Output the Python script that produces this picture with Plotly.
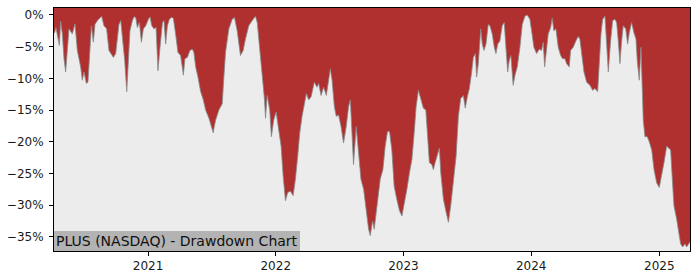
import pandas as pd
import plotly.graph_objects as go

# Time as decimal year, drawdown in percent
year_frac = [
    2020.271, 2020.281, 2020.297, 2020.308, 2020.318, 2020.331, 2020.344, 2020.357, 2020.383, 2020.409,
    2020.430, 2020.448, 2020.474, 2020.487, 2020.500, 2020.519, 2020.531, 2020.547, 2020.558, 2020.573,
    2020.586, 2020.605, 2020.625, 2020.638, 2020.656, 2020.677, 2020.695, 2020.714, 2020.730, 2020.748,
    2020.773, 2020.787, 2020.802, 2020.818, 2020.834, 2020.844, 2020.859, 2020.878, 2020.891, 2020.904,
    2020.917, 2020.933, 2020.948, 2020.964, 2020.982, 2021.003, 2021.016, 2021.029, 2021.047, 2021.063,
    2021.078, 2021.094, 2021.113, 2021.125, 2021.138, 2021.152, 2021.167, 2021.183, 2021.198, 2021.216,
    2021.234, 2021.255, 2021.277, 2021.289, 2021.308, 2021.328, 2021.347, 2021.359, 2021.373, 2021.391,
    2021.412, 2021.433, 2021.451, 2021.477, 2021.503, 2021.511, 2021.516, 2021.529, 2021.555, 2021.581,
    2021.594, 2021.607, 2021.633, 2021.659, 2021.677, 2021.698, 2021.724, 2021.745, 2021.763, 2021.789,
    2021.816, 2021.841, 2021.855, 2021.875, 2021.894, 2021.912, 2021.920, 2021.933, 2021.953, 2021.966,
    2021.984, 2022.003, 2022.023, 2022.042, 2022.058, 2022.076, 2022.094, 2022.115, 2022.136, 2022.154,
    2022.172, 2022.188, 2022.206, 2022.224, 2022.240, 2022.258, 2022.277, 2022.302, 2022.323, 2022.336,
    2022.355, 2022.375, 2022.396, 2022.414, 2022.427, 2022.441, 2022.459, 2022.474, 2022.492, 2022.511,
    2022.531, 2022.552, 2022.570, 2022.584, 2022.597, 2022.609, 2022.630, 2022.648, 2022.667, 2022.688,
    2022.709, 2022.727, 2022.740, 2022.758, 2022.771, 2022.792, 2022.818, 2022.839, 2022.857, 2022.875,
    2022.891, 2022.909, 2022.927, 2022.948, 2022.969, 2022.988, 2023.005, 2023.027, 2023.047, 2023.066,
    2023.084, 2023.099, 2023.117, 2023.136, 2023.156, 2023.175, 2023.188, 2023.203, 2023.222, 2023.234,
    2023.248, 2023.266, 2023.281, 2023.292, 2023.313, 2023.334, 2023.352, 2023.370, 2023.391, 2023.412,
    2023.430, 2023.448, 2023.469, 2023.484, 2023.500, 2023.516, 2023.534, 2023.547, 2023.563, 2023.573,
    2023.586, 2023.605, 2023.617, 2023.630, 2023.646, 2023.664, 2023.677, 2023.695, 2023.711, 2023.724,
    2023.738, 2023.755, 2023.773, 2023.789, 2023.802, 2023.816, 2023.828, 2023.841, 2023.859, 2023.873,
    2023.891, 2023.912, 2023.930, 2023.951, 2023.969, 2023.990, 2024.003, 2024.021, 2024.042, 2024.063,
    2024.081, 2024.094, 2024.105, 2024.115, 2024.133, 2024.152, 2024.164, 2024.177, 2024.193, 2024.211,
    2024.230, 2024.245, 2024.263, 2024.277, 2024.297, 2024.308, 2024.328, 2024.349, 2024.367, 2024.380,
    2024.394, 2024.412, 2024.433, 2024.459, 2024.480, 2024.498, 2024.519, 2024.531, 2024.545, 2024.558,
    2024.576, 2024.589, 2024.602, 2024.620, 2024.636, 2024.654, 2024.667, 2024.680, 2024.693, 2024.706,
    2024.719, 2024.738, 2024.753, 2024.766, 2024.784, 2024.802, 2024.818, 2024.828, 2024.844, 2024.857,
    2024.867, 2024.875, 2024.888, 2024.906, 2024.922, 2024.941, 2024.959, 2024.980, 2025.000, 2025.019,
    2025.037, 2025.058, 2025.070, 2025.089, 2025.102, 2025.115, 2025.136, 2025.154, 2025.167, 2025.183,
    2025.201, 2025.214, 2025.234,
]
drawdown_pct = [
    -2.8, -2.0, -3.5, -4.8, -1.0, -3.0, -6.9, -9.0, -2.2, -3.0,
    -1.4, -5.6, -8.2, -10.3, -9.0, -10.8, -10.6, -4.1, -1.7, -4.3,
    -1.5, -0.9, -0.4, -0.2, -1.7, -2.2, -5.6, -6.1, -6.7, -6.1,
    -1.5, -0.9, -3.5, -7.2, -12.1, -7.2, -2.5, -0.9, -0.3, -0.4,
    -2.0, -1.2, -4.3, -2.2, -1.7, -0.7, -0.3, -1.7, -2.2, -2.0,
    -8.8, -5.1, -1.2, -0.9, -4.6, -1.7, -0.7, -0.4, -0.5, -3.0,
    -5.9, -6.4, -9.5, -6.9, -6.7, -5.6, -5.4, -5.9, -8.2, -9.8,
    -12.1, -13.4, -15.0, -16.3, -17.9, -18.6, -17.9, -16.6, -15.0, -14.0,
    -9.8, -5.9, -2.2, -0.7, -0.4, -2.5, -6.4, -5.6, -3.8, -1.7,
    -0.9, -0.2, -1.2, -5.6, -8.8, -13.4, -16.3, -12.7, -15.0, -19.2,
    -16.6, -15.3, -18.1, -20.7, -25.4, -29.3, -28.0, -27.8, -28.5, -25.9,
    -22.3, -18.6, -16.0, -13.7, -12.4, -13.4, -12.9, -10.6, -11.4, -10.8,
    -12.7, -11.4, -12.7, -10.3, -8.5, -10.3, -14.5, -16.0, -15.8, -17.6,
    -20.2, -17.6, -14.5, -13.4, -18.1, -23.6, -17.6, -21.3, -25.9, -27.5,
    -30.6, -33.8, -34.8, -32.5, -33.8, -30.1, -25.9, -24.4, -20.7, -18.4,
    -18.4, -21.3, -27.0, -29.1, -30.9, -31.7, -30.1, -27.5, -24.9, -22.8,
    -18.6, -14.5, -11.9, -13.4, -14.7, -15.0, -19.7, -23.3, -23.6, -24.4,
    -23.3, -21.8, -21.0, -24.9, -29.1, -31.1, -32.7, -30.1, -26.5, -22.3,
    -16.0, -13.2, -12.7, -14.7, -12.9, -11.6, -9.0, -6.7, -6.1, -9.8,
    -7.7, -2.2, -4.6, -5.6, -4.6, -1.5, -1.7, -3.0, -5.1, -6.1,
    -4.6, -4.1, -1.7, -1.2, -5.1, -9.0, -7.2, -6.4, -11.1, -9.5,
    -8.2, -5.1, -1.5, -0.2, 0.0, -0.7, -2.5, -5.1, -6.1, -5.4,
    -5.6, -4.3, -8.2, -6.1, -3.0, -2.0, -0.5, -2.5, -2.2, -5.1,
    -6.4, -6.9, -6.9, -7.7, -8.2, -5.6, -5.1, -4.1, -3.4, -3.8,
    -6.1, -9.0, -10.6, -11.1, -11.9, -11.6, -12.1, -6.7, -3.0, -0.7,
    -0.2, -4.6, -9.0, -4.1, -0.9, -0.7, -1.2, -4.1, -7.7, -4.1,
    -1.7, -2.2, -4.6, -2.8, -1.2, -2.8, -3.8, -7.2, -10.3, -5.1,
    -13.4, -16.6, -19.2, -19.2, -20.0, -21.3, -24.4, -26.5, -27.2, -25.4,
    -23.3, -20.7, -21.0, -21.3, -25.9, -30.1, -32.2, -34.3, -36.1, -36.6,
    -36.1, -36.6, -35.8,
]

y_tick_vals = [0, -5, -10, -15, -20, -25, -30, -35]
y_tick_text = ["0%", "\u22125%", "\u221210%", "\u221215%", "\u221220%", "\u221225%", "\u221230%", "\u221235%"]
x_tick_years = [2021, 2022, 2023, 2024, 2025]
title_text = "PLUS (NASDAQ) - Drawdown Chart"


def to_date(yf):
    y = int(yf)
    start = pd.Timestamp(year=y, month=1, day=1)
    end = pd.Timestamp(year=y + 1, month=1, day=1)
    return start + (end - start) * (yf - y)


dates = [to_date(v) for v in year_frac]
x_start = to_date(2020.266)
x_end = to_date(2025.2406)
y_lo, y_hi = -37.23, 1.09

RED = "#b03030"
BG = "#ececec"

fig = go.Figure()
# ceiling (upper bound of fill, outside the visible range)
fig.add_trace(go.Scatter(
    x=[x_start] + dates + [x_end], y=[y_hi + 5] * (len(dates) + 2),
    mode="lines", line=dict(width=0, color=RED), hoverinfo="skip", showlegend=False,
))
fig.add_trace(go.Scatter(
    x=[x_start] + dates + [x_end],
    y=[drawdown_pct[0]] + drawdown_pct + [drawdown_pct[-1]],
    mode="lines", fill="tonexty", fillcolor=RED,
    line=dict(color="#8a8a8a", width=0.8), showlegend=False,
))

font_family = "DejaVu Sans"
fig.update_layout(
    width=700, height=280,
    margin=dict(l=53, r=10, t=7, b=28),
    paper_bgcolor="white", plot_bgcolor=BG,
    showlegend=False,
    font=dict(family=font_family, size=12, color="#1a1a1a"),
)
fig.update_xaxes(
    range=[x_start, x_end],
    tickvals=[pd.Timestamp(year=y, month=1, day=1) for y in x_tick_years],
    ticktext=[str(y) for y in x_tick_years],
    ticks="outside", ticklen=4, tickwidth=1, tickcolor="black",
    showline=True, linecolor="black", linewidth=1, mirror=True,
    showgrid=False, zeroline=False,
    tickfont=dict(family=font_family, size=12, color="#1a1a1a"),
)
fig.update_yaxes(
    range=[y_lo, y_hi],
    tickvals=y_tick_vals, ticktext=y_tick_text,
    ticks="outside", ticklen=4, tickwidth=1, tickcolor="black",
    showline=True, linecolor="black", linewidth=1, mirror=True,
    showgrid=False, zeroline=False, ticklabelstandoff=3,
    tickfont=dict(family=font_family, size=12, color="#1a1a1a"),
)
fig.add_annotation(
    text=title_text, xref="paper", yref="paper", x=0, y=0,
    xanchor="left", yanchor="bottom", showarrow=False,
    bgcolor="#b3b3b3", borderpad=2, borderwidth=0,
    font=dict(family=font_family, size=14, color="#111111"),
)

fig.write_html("out.html")
